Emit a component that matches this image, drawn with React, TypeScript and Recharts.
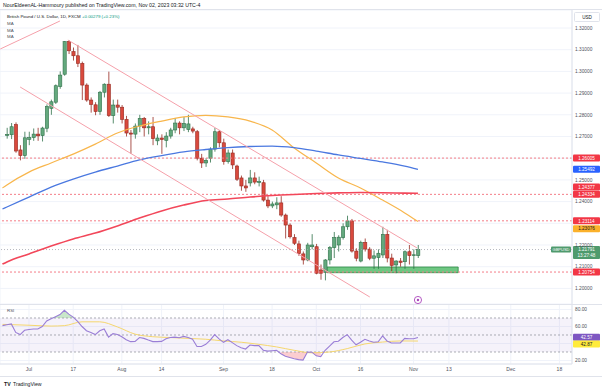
import {
  ComposedChart,
  Bar,
  Line,
  Area,
  XAxis,
  YAxis,
  CartesianGrid,
  ReferenceLine,
  ReferenceArea,
  ReferenceDot,
} from "recharts";

// bar index 0 = Jul 3 2023, trading days only
const X_DOMAIN: [number, number] = [-6.56, 122.85];
const dateTicks = [0, 10, 21, 30, 44, 55, 65, 75, 87, 95, 109, 120];
const dateLabels = ["Jul", "17", "Aug", "14", "Sep", "18", "Oct", "16", "Nov", "13", "Dec", "18"];

const PRICE_DOMAIN: [number, number] = [1.192811, 1.328295];
const priceTicks = [1.2, 1.21, 1.22, 1.23, 1.24, 1.25, 1.26, 1.27, 1.28, 1.29, 1.3, 1.31, 1.32];
const hiddenPriceTicks = [1.23, 1.26];

// candles start at index -5 (Jun 26)
const candleStart = -5;
const opens = [
  1.2705, 1.2708, 1.2755, 1.2638, 1.2612, 1.2687, 1.2695, 1.2711, 1.2704, 1.2738,
  1.283, 1.2858, 1.293, 1.2987, 1.3137, 1.3091, 1.3072, 1.3037, 1.2937, 1.2868,
  1.2846, 1.2815, 1.2904, 1.2941, 1.2796, 1.2845, 1.2835, 1.2779, 1.2716, 1.2711,
  1.2748, 1.2783, 1.274, 1.2745, 1.268, 1.2693, 1.2682, 1.2702, 1.273, 1.2762,
  1.274, 1.2732, 1.2735, 1.2722, 1.26, 1.2578, 1.26, 1.2642, 1.2722, 1.2671,
  1.2584, 1.2624, 1.2564, 1.2509, 1.2472, 1.2486, 1.2509, 1.249, 1.2487, 1.2407,
  1.238, 1.2385, 1.2394, 1.2338, 1.2292, 1.2234, 1.2205, 1.2159, 1.2131, 1.2192,
  1.2192, 1.2085, 1.2074, 1.2131, 1.2188, 1.22, 1.2234, 1.2284, 1.2311, 1.2172,
  1.2126, 1.2212, 1.2181, 1.2139, 1.2142, 1.2154, 1.2249, 1.214, 1.2108, 1.2126,
  1.2123, 1.2169, 1.2151, 1.2151,
];
const highs = [
  1.274, 1.2762, 1.2765, 1.266, 1.2722, 1.2722, 1.2737, 1.274, 1.2745, 1.2848,
  1.287, 1.294, 1.3, 1.314, 1.3143, 1.311, 1.3122, 1.3045, 1.2945, 1.288,
  1.2858, 1.291, 1.2945, 1.2999, 1.287, 1.287, 1.2845, 1.2795, 1.273, 1.276,
  1.28, 1.279, 1.277, 1.279, 1.271, 1.271, 1.272, 1.274, 1.2785, 1.277,
  1.279, 1.28, 1.2745, 1.273, 1.262, 1.26, 1.265, 1.2739, 1.273, 1.269,
  1.264, 1.264, 1.257, 1.252, 1.25, 1.2546, 1.2535, 1.2515, 1.25, 1.2425,
  1.24, 1.242, 1.2425, 1.2345, 1.23, 1.225, 1.222, 1.217, 1.221, 1.225,
  1.2205, 1.211, 1.2135, 1.2195, 1.226, 1.2245, 1.23, 1.2335, 1.232, 1.2185,
  1.222, 1.223, 1.219, 1.2175, 1.218, 1.2284, 1.227, 1.216, 1.213, 1.214,
  1.2175, 1.22, 1.218, 1.22,
];
const lows = [
  1.269, 1.2688, 1.2625, 1.259, 1.2597, 1.266, 1.268, 1.268, 1.2677, 1.272,
  1.28, 1.285, 1.292, 1.298, 1.308, 1.305, 1.302, 1.2868, 1.286, 1.281,
  1.2798, 1.28, 1.288, 1.279, 1.276, 1.281, 1.276, 1.27, 1.262, 1.269,
  1.272, 1.27, 1.271, 1.266, 1.266, 1.262, 1.265, 1.269, 1.2715, 1.271,
  1.2725, 1.272, 1.2715, 1.259, 1.2555, 1.256, 1.258, 1.263, 1.265, 1.257,
  1.2575, 1.255, 1.2495, 1.245, 1.2445, 1.247, 1.248, 1.247, 1.24, 1.237,
  1.237, 1.2365, 1.233, 1.223, 1.223, 1.22, 1.215, 1.211, 1.2125, 1.218,
  1.2065, 1.204, 1.2037, 1.211, 1.214, 1.217, 1.2225, 1.227, 1.2165, 1.2125,
  1.212, 1.217, 1.213, 1.209, 1.209, 1.214, 1.212, 1.208, 1.207, 1.21,
  1.209, 1.211, 1.209, 1.214,
];
const closes = [
  1.271, 1.2745, 1.2633, 1.2612, 1.2694, 1.2695, 1.2711, 1.2703, 1.2739, 1.2838,
  1.286, 1.2934, 1.2983, 1.3137, 1.3095, 1.3072, 1.3037, 1.2937, 1.2868, 1.2848,
  1.2815, 1.2904, 1.2941, 1.2796, 1.2845, 1.2835, 1.2779, 1.2716, 1.2711, 1.2748,
  1.2783, 1.274, 1.2745, 1.269, 1.2693, 1.2686, 1.2702, 1.273, 1.2762, 1.274,
  1.276, 1.2758, 1.2725, 1.26, 1.2578, 1.259, 1.2642, 1.2722, 1.2671, 1.2584,
  1.2624, 1.2569, 1.2503, 1.2472, 1.2463, 1.2509, 1.249, 1.2492, 1.2407, 1.238,
  1.2389, 1.2394, 1.2338, 1.2292, 1.2238, 1.2208, 1.216, 1.2131, 1.22, 1.22,
  1.207, 1.207, 1.2131, 1.2188, 1.2234, 1.2236, 1.2284, 1.2311, 1.2172, 1.2139,
  1.2212, 1.2181, 1.2139, 1.215, 1.2162, 1.2249, 1.214, 1.2106, 1.2126, 1.212,
  1.2169, 1.2151, 1.2155, 1.2179,
];

// moving averages read at sample bars
const maIdx = [-6, -5, 0, 5, 10, 15, 20, 25, 30, 35, 40, 45, 50, 55, 60, 65, 70, 75, 80, 85, 88];
const ma50 = [
  1.2463, 1.2477, 1.2536, 1.2578, 1.2619, 1.2665, 1.2716, 1.2748, 1.2771, 1.279, 1.2797,
  1.279, 1.2771, 1.273, 1.2647, 1.2578, 1.2509, 1.2463, 1.2407, 1.2348, 1.2308,
];
const ma100 = [
  1.2366, 1.2375, 1.2421, 1.2467, 1.2504, 1.2536, 1.2564, 1.2592, 1.2612, 1.2629, 1.264,
  1.2649, 1.2654, 1.2656, 1.2649, 1.2633, 1.2615, 1.2599, 1.2583, 1.2564, 1.2549,
];
const ma200 = [
  1.2112, 1.2122, 1.2159, 1.2195, 1.2228, 1.2255, 1.2288, 1.2324, 1.2357, 1.2384, 1.2405,
  1.2412, 1.2421, 1.2428, 1.2433, 1.2437, 1.244, 1.2442, 1.2441, 1.2439, 1.2438,
];

// RSI from index -6
const rsiStart = -6;
const rsiValues = [
  61, 62, 63, 53, 50.5, 55.5, 56.5, 57, 57, 60, 66.5, 69, 71.5, 74, 79, 74.5, 71, 66, 60, 55,
  53, 50.5, 55, 57, 47.5, 51.6, 50.5, 48, 44.5, 42.2, 42.5, 47, 46, 44, 42.2, 42.2, 42.5, 45.5,
  47, 47.5, 46.8, 48.4, 47, 45, 36.5, 36.5, 39, 44, 50.4, 45.5, 41.4, 44.5, 41, 37.5, 35, 33.5,
  38.2, 37.5, 37.5, 32.1, 31, 31.5, 32, 28, 25, 23.5, 22, 21, 20.5, 30, 29.8, 25.5, 24.5, 32,
  37, 42, 42.6, 47, 50.4, 44, 38.5, 41.4, 45, 43, 41.5, 42, 49, 43, 40.6, 40.6, 40.6, 46, 45.5,
  45.5, 47,
];
const rsiMaIdx = [-6, 0, 5, 8, 12, 16, 20, 24, 28, 32, 36, 40, 44, 48, 52, 56, 60, 64, 68, 72, 76, 80, 84, 88];
const rsiMa = [
  62.5, 61.5, 60.5, 61, 65.5, 65.5, 59.5, 51, 48, 47, 46, 45, 43, 41.5, 39, 36, 32, 29, 30, 34,
  39.5, 41.7, 43, 42.9,
];
const RSI_DOMAIN: [number, number] = [15.88, 86.47];

// drawings
const levels = [1.26005, 1.24334, 1.23114, 1.20754];
const lastPrice = 1.21791;
const zone = { x1: 67.4, x2: 97.1, y1: 1.20724, y2: 1.20986 };
const channelTop = [{ x: 8.8, y: 1.31447 }, { x: 87.8, y: 1.21862 }];
const channelBottom = [{ x: -2, y: 1.29281 }, { x: 77.1, y: 1.19604 }];
const oldLine = [{ x: -6.5, y: 1.31032 }, { x: 7, y: 1.32323 }];

const sample = (idx: number[], vals: number[], i: number) => {
  const k = idx.indexOf(i);
  return k >= 0 ? vals[k] : null;
};

const rows = rsiValues.map((r, k) => {
  const i = rsiStart + k;
  const c = i - candleStart;
  const has = c >= 0 && c < closes.length;
  return {
    i,
    range: has ? [lows[c], highs[c]] : null,
    o: has ? opens[c] : null,
    c: has ? closes[c] : null,
    ma50: sample(maIdx, ma50, i),
    ma100: sample(maIdx, ma100, i),
    ma200: sample(maIdx, ma200, i),
    rsi: r,
    rsiMa: sample(rsiMaIdx, rsiMa, i),
    ob: r >= 69 ? [70, Math.max(70, r)] : null,
    os: r <= 31 ? [Math.min(30, r), 30] : null,
  };
});

const FONT = '"Liberation Sans", Arial, sans-serif';

function Candle(props: any) {
  const { x, y, width, height, payload } = props;
  if (!payload || payload.o == null || !Number.isFinite(y)) return <g />;
  const [lo, hi] = payload.range;
  const top = Math.min(y, y + height);
  const h = Math.abs(height);
  const py = (v: number) => top + ((hi - v) / (hi - lo)) * h;
  const cx = x + width / 2;
  const up = payload.c >= payload.o;
  const fill = up ? "#64a97e" : "#d9493d";
  const edge = up ? "#2f7149" : "#962a21";
  const bTop = py(Math.max(payload.o, payload.c));
  const bBot = py(Math.min(payload.o, payload.c));
  return (
    <g>
      <line x1={cx} x2={cx} y1={top} y2={top + h} stroke={edge} strokeWidth={0.8} />
      <rect x={cx - 1.6} y={bTop} width={3.2} height={Math.max(0.8, bBot - bTop)} fill={fill} stroke={edge} strokeWidth={0.6} />
    </g>
  );
}

function PriceTick(props: any) {
  const { x, y, payload } = props;
  if (hiddenPriceTicks.some((v) => Math.abs(v - payload.value) < 1e-6)) return <g />;
  return (
    <text x={x} y={y} dy={1.7} fontSize={4.8} fill="#50535e" fontFamily={FONT} textAnchor="start">
      {payload.value.toFixed(5)}
    </text>
  );
}

function RsiTick(props: any) {
  const { x, y, payload } = props;
  if (payload.value === 40) return <g />;
  return (
    <text x={x} y={y} dy={1.7} fontSize={4.8} fill="#50535e" fontFamily={FONT} textAnchor="start">
      {payload.value.toFixed(2)}
    </text>
  );
}

const tag = (text: string, bg: string, fg: string, dy = 0, sub?: string) => (p: any) => {
  const vb = p.viewBox || {};
  const x = vb.x + vb.width + 1;
  const y = vb.y + dy;
  const h = sub ? 13 : 7;
  return (
    <g>
      <rect x={x} y={y - 3.5} width={27} height={h} fill={bg} rx={1} />
      <text x={x + 13.5} y={y + 1.7} fontSize={4.6} fill={fg} textAnchor="middle" fontFamily={FONT}>
        {text}
      </text>
      {sub && (
        <text x={x + 13.5} y={y + 7.6} fontSize={4.6} fill={fg} textAnchor="middle" fontFamily={FONT}>
          {sub}
        </text>
      )}
    </g>
  );
};

const lastTag = (p: any) => {
  const vb = p.viewBox || {};
  const right = vb.x + vb.width;
  return (
    <g>
      <rect x={right - 21} y={vb.y - 3} width={20} height={6} fill="#4f9a6d" rx={1} />
      <text x={right - 11} y={vb.y + 1.5} fontSize={4} fill="#fff" textAnchor="middle" fontFamily={FONT}>
        GBPUSD
      </text>
      {tag("1.21791", "#4f9a6d", "#fff", 0, "13:27:48")(p)}
    </g>
  );
};

const EventIcon = (p: any) => (
  <g>
    <circle cx={p.cx} cy={p.cy} r={3.6} fill="#fff" stroke="#ab47bc" strokeWidth={0.9} />
    <circle cx={p.cx} cy={p.cy} r={1.2} fill="#ab47bc" />
  </g>
);

export default function App() {
  return (
    <div style={{ position: "absolute", left: 0, top: 0, width: 602, height: 390, background: "#fff", overflow: "hidden" }}>
      <div style={{ position: "absolute", left: 0, top: 0 }}>
        <ComposedChart width={602} height={304} data={rows} margin={{ top: 10, right: 0, bottom: 0, left: 0 }}>
          <CartesianGrid stroke="#f0f3fa" />
          <XAxis
            type="number"
            dataKey="i"
            domain={X_DOMAIN}
            ticks={dateTicks}
            allowDataOverflow
            height={0}
            tick={false}
            axisLine={false}
            tickLine={false}
          />
          <YAxis
            orientation="right"
            width={30}
            domain={PRICE_DOMAIN}
            ticks={priceTicks}
            allowDataOverflow
            interval={0}
            tickLine={false}
            tickSize={0}
            tickMargin={3}
            axisLine={{ stroke: "#e0e3eb" }}
            tick={<PriceTick />}
          />
          {levels.map((v) => (
            <ReferenceLine key={v} y={v} stroke="#f47c87" strokeDasharray="2 2" strokeWidth={1} />
          ))}
          <ReferenceLine y={lastPrice} stroke="#a3a6af" strokeDasharray="1 2" strokeWidth={0.8} />
          <ReferenceArea {...zone} fill="#55bd6c" fillOpacity={0.85} stroke="#2e8b45" strokeWidth={0.8} />
          <Bar dataKey="range" barSize={3} shape={<Candle />} isAnimationActive={false} />
          <Line dataKey="ma50" type="monotone" stroke="#f8b64c" strokeWidth={1.2} dot={false} connectNulls isAnimationActive={false} />
          <Line dataKey="ma100" type="monotone" stroke="#4a78e0" strokeWidth={1.3} dot={false} connectNulls isAnimationActive={false} />
          <Line dataKey="ma200" type="monotone" stroke="#f2475a" strokeWidth={1.6} dot={false} connectNulls isAnimationActive={false} />
          <ReferenceLine segment={channelTop} stroke="#f5a0aa" strokeWidth={1} />
          <ReferenceLine segment={channelBottom} stroke="#f5a0aa" strokeWidth={1} />
          <ReferenceLine segment={oldLine} stroke="#f5a0aa" strokeWidth={1} />
          <ReferenceDot x={88} y={1.19465} r={3.6} shape={EventIcon} />
          <ReferenceLine y={1.26005} stroke="none" label={tag("1.26005", "#f23645", "#fff")} />
          <ReferenceLine y={1.25492} stroke="none" label={tag("1.25492", "#2962ff", "#fff")} />
          <ReferenceLine y={1.24377} stroke="none" label={tag("1.24377", "#f23645", "#fff", -6.5)} />
          <ReferenceLine y={1.24334} stroke="none" label={tag("1.24334", "#f23645", "#fff", 0)} />
          <ReferenceLine y={1.23114} stroke="none" label={tag("1.23114", "#f23645", "#fff")} />
          <ReferenceLine y={1.23076} stroke="none" label={tag("1.23076", "#fbb12b", "#131722", 7)} />
          <ReferenceLine y={lastPrice} stroke="none" label={lastTag} />
          <ReferenceLine y={1.20754} stroke="none" label={tag("1.20754", "#f23645", "#fff")} />
        </ComposedChart>
      </div>
      <div style={{ position: "absolute", left: 0, top: 304 }}>
        <ComposedChart width={602} height={76} data={rows} margin={{ top: 0, right: 0, bottom: 0, left: 0 }}>
          <CartesianGrid stroke="#f0f3fa" />
          <XAxis
            type="number"
            dataKey="i"
            domain={X_DOMAIN}
            ticks={dateTicks}
            allowDataOverflow
            interval={0}
            height={16}
            tickLine={false}
            tickSize={0}
            tickMargin={3}
            axisLine={{ stroke: "#e0e3eb" }}
            tick={{ fontSize: 5, fill: "#50535e", fontFamily: FONT }}
            tickFormatter={(v: number) => dateLabels[dateTicks.indexOf(v)] ?? ""}
          />
          <YAxis
            orientation="right"
            width={30}
            domain={RSI_DOMAIN}
            ticks={[20, 40, 60, 80]}
            allowDataOverflow
            interval={0}
            tickLine={false}
            tickSize={0}
            tickMargin={3}
            axisLine={{ stroke: "#e0e3eb" }}
            tick={<RsiTick />}
          />
          <ReferenceArea y1={30} y2={70} fill="#7e57c2" fillOpacity={0.08} stroke="none" />
          <ReferenceLine y={70} stroke="#9598a1" strokeDasharray="2 2" strokeWidth={0.8} />
          <ReferenceLine y={50} stroke="#9598a1" strokeDasharray="2 2" strokeWidth={0.8} />
          <ReferenceLine y={30} stroke="#9598a1" strokeDasharray="2 2" strokeWidth={0.8} />
          <Area dataKey="ob" stroke="none" fill="#4caf50" fillOpacity={0.3} isAnimationActive={false} />
          <Area dataKey="os" stroke="none" fill="#f23645" fillOpacity={0.25} isAnimationActive={false} />
          <Line dataKey="rsiMa" type="monotone" stroke="#f5d76e" strokeWidth={1} dot={false} connectNulls isAnimationActive={false} />
          <Line dataKey="rsi" type="linear" stroke="#9a7ed6" strokeWidth={1.1} dot={false} isAnimationActive={false} />
          <ReferenceLine y={42.57} stroke="none" label={tag("42.57", "#7e57c2", "#fff", -4)} />
          <ReferenceLine y={42.87} stroke="none" label={tag("42.87", "#ffeb3b", "#131722", 3)} />
        </ComposedChart>
      </div>
      <svg width={602} height={390} style={{ position: "absolute", left: 0, top: 0, pointerEvents: "none" }} fontFamily={FONT}>
        <line x1={0} x2={602} y1={9.5} y2={9.5} stroke="#e0e3eb" />
        <line x1={0} x2={602} y1={304.5} y2={304.5} stroke="#e0e3eb" />
        <rect x={0} y={376} width={602} height={14} fill="#fff" />
        <line x1={0} x2={602} y1={376.5} y2={376.5} stroke="#e0e3eb" />
        <text x={3} y={6.5} fontSize={5.2} fill="#131722">
          NourEldeenAL-Hammoury published on TradingView.com, Nov 02, 2023 03:32 UTC-4
        </text>
        <text x={7} y={17.5} fontSize={4.4} fill="#131722">
          British Pound / U.S. Dollar, 1D, FXCM <tspan fill="#089981">+0.00279 (+0.23%)</tspan>
        </text>
        <text x={7} y={25} fontSize={4.4} fill="#50535e">MA</text>
        <text x={7} y={31.5} fontSize={4.4} fill="#50535e">MA</text>
        <text x={7} y={38} fontSize={4.4} fill="#50535e">MA</text>
        <rect x={574.5} y={12.5} width={25} height={9} fill="#fff" stroke="#e0e3eb" rx={1} />
        <text x={587} y={18.6} fontSize={4.6} fill="#131722" textAnchor="middle">USD</text>
        <text x={7} y={312} fontSize={4.4} fill="#50535e">RSI</text>
        <text x={4} y={386} fontSize={5.2} fill="#131722" fontWeight="bold">TV</text>
        <text x={13} y={386} fontSize={5.2} fill="#131722">TradingView</text>
      </svg>
    </div>
  );
}
